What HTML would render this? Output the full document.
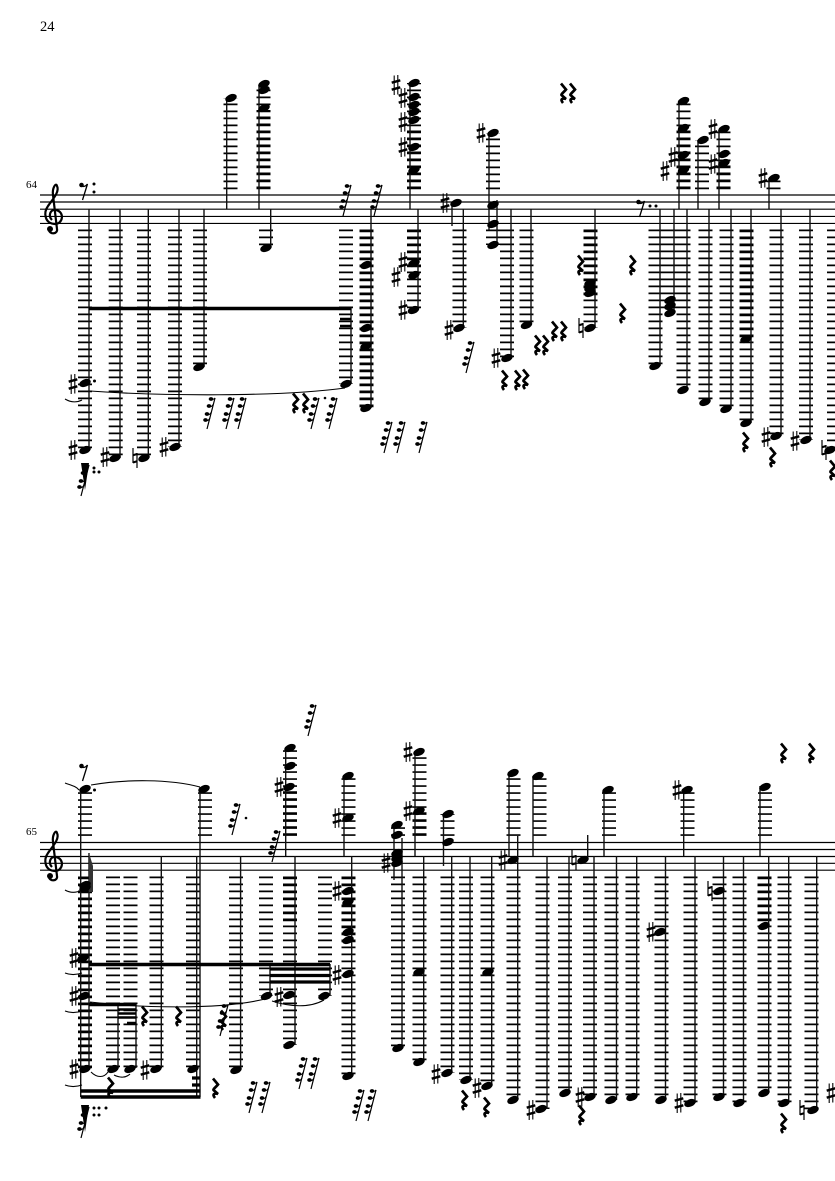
<!DOCTYPE html>
<html><head><meta charset="utf-8"><style>
html,body{margin:0;padding:0;background:#fff}
svg{display:block}
text{font-family:"Liberation Serif",serif;fill:#000}
.st{stroke:#000;stroke-width:1.15;fill:none}
.s{stroke:#111;stroke-width:1.4;fill:none}
.l{stroke:#000;stroke-width:14;stroke-dasharray:1.7 5.3;fill:none}
.b{stroke:#000;stroke-width:3.4;fill:none}
.t{stroke:#000;stroke-width:1.1;fill:none}
</style></head><body>
<svg width="835" height="1181" viewBox="0 0 835 1181" xmlns="http://www.w3.org/2000/svg">
<defs>
<g id="n"><ellipse rx="6" ry="3.7" transform="rotate(-22)"/></g>
<g id="h"><path d="M-1.8 -9.500V10M1.800 -10V9.500" stroke="#000" stroke-width="1.1" fill="none"/><path d="M-4.300 -2.300L4.300 -4.700M-4.300 4.700L4.300 2.300" stroke="#000" stroke-width="2.500" fill="none"/></g>
<g id="a"><path d="M-2 -10V5M2 -5V10" stroke="#000" stroke-width="1.200" fill="none"/><path d="M-2 -2.800L2 -4M-2 4.500L2 3.300" stroke="#000" stroke-width="2.100" fill="none"/></g>
<g id="r"><path d="M-2 -9.500L3 -3.500C1 -1 -2 1 -1.500 2L3 6C0 5 -3.500 6 0 10" stroke="#000" stroke-width="2.700" fill="none"/></g>
<g id="g"><path d="M-4 16L4 -15" stroke="#000" stroke-width="1.200" fill="none"/><ellipse cx="-5.500" cy="7" rx="2.300" ry="1.900"/><ellipse cx="-4" cy="1" rx="2.300" ry="1.900"/><ellipse cx="-2" cy="-7" rx="2.300" ry="1.900"/><ellipse cx="0" cy="-14" rx="2.300" ry="1.900"/><path d="M-4.500 7.500C-3 8 -2.500 7 -1 5M-3 1.500C-1.500 2 -1 1 .5 -1M-1 -6.500C.5 -6 1 -7 2.500 -9M1 -13.500C2 -13 3 -14 4.200 -15" stroke="#000" stroke-width="1" fill="none"/></g>
<g id="e"><circle cx="-2.500" cy="-7" r="2.300"/><path d="M-2.500 -6C0 -5 2 -6 3.500 -8L-1.500 8" stroke="#000" stroke-width="1.300" fill="none"/></g>
<path id="c" d="M57 229C58 234 50 235 49 230M57 229L53 195C52 188 56 182 57 186C60 192 52 200 48 206C43 213 45 224 55 224C63 224 65 212 56 210C50 209 48 216 52 220" stroke="#000" stroke-width="2.200" fill="none"/>
</defs>

<text x="40" y="31" font-size="14.5">24</text>
<text x="26" y="188" font-size="11">64</text>
<text x="26" y="835" font-size="11">65</text>

<!-- SYSTEM 1 -->
<path class="st" d="M40 195H835M40 202H835M40 209.200H835M40 216.400H835M40 223.400H835"/>
<use href="#c"/>
<circle cx="50" cy="229" r="3"/>
<path class="l" d="M85 229.500V450M115.700 229.500V458M144 229.500V458M175 229.500V447M200 229.500V367M266 229.500V248M346 229.500V384M366.500 229.500V408M414 229.500V310M459.500 229.500V328M493 229.500V245M507 229.500V358M526.500 229.500V325M590.500 229.500V328M655.500 229.500V366M669.500 229.500V313M683.500 229.500V390M705.500 229.500V402M726.500 229.500V409M746.500 229.500V423M776.500 229.500V436M806 229.500V440M834 229.500V450"/>
<path class="l" d="M366.500 230.500V408M414 230.500V270M590.500 230.500V300M746.500 230.500V340"/>
<path class="l" d="M230.500 189.200V98M263.500 189.200V85M414 189.200V83M493 189.200V133M683.500 189.200V102M702 189.200V140M723.500 189.200V130M773.500 189.200V178"/>
<path class="l" d="M263.500 188.200V110M414 188.200V125M723.500 188.200V160M683.500 188.200V125"/>
<path class="s" d="M89 209V450M120 209V458M148.300 209V458M179 209V447M204 209V367M226.700 209V98M259 209V85M270.700 209V248M351 308V384M371 209V408M410 209V83M418 209V310M452 203V226M463.300 209V328M489 132V230M497 200V245M511 209V358M531 209V325M595 209V328M660 209V366M674 209V313M679 209V102M687 209V390M698 209V140M709 209V402M719 209V130M731 209V409M751 209V423M769 209V178M781 209V436M810 209V440"/>
<path class="b" d="M89 308.500H351"/>
<path d="M340 319H351M340 326H351" stroke="#000" stroke-width="2.600"/>
<path class="t" d="M90 391C160 396 280 397 345 388"/>
<path class="t" d="M65 399C70 402 76 403 82 400"/>
<g>
<use href="#n" x="85" y="450"/><use href="#n" x="85" y="383"/><circle cx="94.500" cy="381" r="1.500"/>
<use href="#n" x="115" y="458"/><use href="#n" x="144" y="458"/><use href="#n" x="175" y="447"/><use href="#n" x="199" y="367"/>
<use href="#n" x="231" y="98"/><use href="#n" x="264" y="84"/><use href="#n" x="264" y="90"/><use href="#n" x="264" y="108"/>
<use href="#n" x="266" y="248"/><use href="#n" x="346" y="384"/>
<use href="#n" x="366" y="265"/><use href="#n" x="366" y="328"/><use href="#n" x="366" y="346"/><use href="#n" x="366" y="408"/>
<use href="#n" x="414" y="83"/><use href="#n" x="414" y="97"/><use href="#n" x="414" y="105"/><use href="#n" x="414" y="112"/><use href="#n" x="414" y="120"/><use href="#n" x="414" y="147"/><use href="#n" x="414" y="170"/>
<use href="#n" x="414" y="263"/><use href="#n" x="414" y="275"/><use href="#n" x="413.500" y="310"/>
<use href="#n" x="456" y="203"/><use href="#n" x="459" y="328"/>
<use href="#n" x="493" y="133"/><use href="#n" x="493" y="205"/><use href="#n" x="493" y="224"/><use href="#n" x="493" y="245"/>
<use href="#n" x="507" y="358"/><use href="#n" x="526.500" y="325"/>
<use href="#n" x="590" y="328"/><use href="#n" x="590" y="283"/><use href="#n" x="590" y="288"/><use href="#n" x="590" y="293"/>
<use href="#n" x="655" y="366"/><use href="#n" x="670" y="300"/><use href="#n" x="670" y="306"/><use href="#n" x="670" y="313"/>
<use href="#n" x="683.500" y="101"/><use href="#n" x="683.500" y="128"/><use href="#n" x="683.500" y="155"/><use href="#n" x="683.500" y="170"/><use href="#n" x="683" y="390"/>
<use href="#n" x="703" y="140"/><use href="#n" x="724" y="129"/><use href="#n" x="724" y="154"/><use href="#n" x="724" y="163"/>
<use href="#n" x="705" y="402"/><use href="#n" x="726" y="409"/><use href="#n" x="746" y="423"/><use href="#n" x="746" y="339"/>
<use href="#n" x="774" y="178"/><use href="#n" x="776" y="436"/><use href="#n" x="806" y="440"/><use href="#n" x="830" y="450"/>
</g>
<g>
<use href="#h" x="73" y="384"/><use href="#h" x="73" y="450"/><use href="#h" x="105" y="457"/><use href="#a" x="135" y="458"/><use href="#h" x="164" y="447"/>
<use href="#h" x="396" y="85"/><use href="#h" x="403" y="98"/><use href="#h" x="403" y="122"/><use href="#h" x="403" y="147"/>
<use href="#h" x="403" y="262"/><use href="#h" x="396" y="277"/><use href="#h" x="403" y="310"/>
<use href="#h" x="445" y="203"/><use href="#h" x="449" y="330"/><use href="#h" x="481" y="133"/><use href="#h" x="496" y="358"/>
<use href="#a" x="581" y="328"/><use href="#h" x="665" y="171"/><use href="#h" x="673" y="157"/><use href="#h" x="713" y="129"/><use href="#h" x="713" y="164"/>
<use href="#h" x="763" y="178"/><use href="#h" x="766" y="437"/><use href="#h" x="795" y="441"/><use href="#a" x="824" y="450"/>
</g>
<g>
<use href="#e" x="84" y="192"/><circle cx="94" cy="184" r="1.500"/><circle cx="94" cy="192" r="1.500"/>
<use href="#e" x="641" y="209"/><circle cx="650" cy="206" r="1.500"/><circle cx="656" cy="206" r="1.500"/>
<use href="#r" x="563" y="93"/><use href="#r" x="572" y="93"/>
<use href="#r" x="504" y="380"/><use href="#r" x="517" y="380"/><use href="#r" x="525" y="379"/>
<use href="#r" x="537" y="345"/><use href="#r" x="545" y="345"/><use href="#r" x="554" y="331"/><use href="#r" x="563" y="331"/>
<use href="#r" x="580" y="265"/><use href="#r" x="632" y="265"/><use href="#r" x="622" y="313"/>
<use href="#r" x="745" y="442"/><use href="#r" x="772" y="457"/><use href="#r" x="832" y="470"/>
<use href="#r" x="295" y="403"/><use href="#r" x="305" y="403"/>
<use href="#g" x="211" y="413"/><use href="#g" x="230" y="413"/><use href="#g" x="242" y="413"/><use href="#g" x="315" y="413"/><circle cx="325" cy="398" r="1.300"/><use href="#g" x="333" y="413"/>
<use href="#g" x="388" y="437"/><use href="#g" x="401" y="437"/><use href="#g" x="423" y="437"/><use href="#g" x="470" y="357"/>
<use href="#g" x="347" y="200"/><use href="#g" x="378" y="200"/>
<use href="#g" x="85" y="480"/><path d="M81 463H89L85 490Z" fill="#000"/>
<circle cx="94" cy="468" r="1.500"/><circle cx="94" cy="472" r="1.500"/><circle cx="99" cy="472" r="1.500"/>
</g>

<!-- SYSTEM 2 -->
<path class="st" d="M40 842.500H835M40 849.500H835M40 856.500H835M40 863.300H835M40 870.200H835"/>
<use href="#c" y="647"/>
<circle cx="50" cy="876" r="3"/>
<path class="l" d="M85 876.500V1069M113 876.500V1069M130.500 876.500V1069M156.500 876.500V1069M193 876.500V1069M236 876.500V1070M266 876.500V996M290 876.500V1045M325 876.500V996M348.500 876.500V1076M398 876.500V1048M419.500 876.500V1062M447.500 876.500V1073M466 876.500V1080M487.500 876.500V1086M513.500 876.500V1100M542.500 876.500V1109M565 876.500V1093M590 876.500V1097M611.500 876.500V1100M632.500 876.500V1097M661.500 876.500V1100M690.500 876.500V1103M719.500 876.500V1097M739.500 876.500V1103M764.500 876.500V1093M784.500 876.500V1103M811.500 876.500V1110"/>
<path class="l" d="M85 877.500V1069M348.500 877.500V945M764.500 877.500V926M290 877.500V925"/>
<path class="l" d="M85 835.900V790M205 835.900V790M290 835.900V748M348.500 835.900V776M398 835.900V826M419.500 835.900V752M447.500 835.900V814M513.500 835.900V773M539.500 835.900V776M609 835.900V790M687.500 835.900V790M765 835.900V787"/>
<path class="l" d="M290 834.900V790M419.500 834.900V811"/>
<path class="s" d="M80.700 790V1097M89 853V1068M118 1004V1068M136 1004V1068M161.300 856V1068M196.700 856V1097M200 787V1097M240.600 856V1068M270 964V994M295 856V1045M285.700 856V748M330 964V996M351.700 856V1075M344 856V776M394 825V880M402 838V1048M415 856V752M423.700 856V1062M443.500 814V866M451.700 856V1073M470 856V1080M491.700 856V1086M509 856V773M517.700 836V1100M533 856V776M547 856V1109M569 856V1093M587.700 860V835M594 856V1097M604 856V790M616.500 856V1100M636.700 856V1097M665.500 856V1100M683.700 856V790M695 856V1103M723.500 856V1097M743.500 856V1103M760 856V786M768.700 856V1093M788.700 856V1103M816.700 856V1110"/>
<path class="b" d="M89 964.500H330M89 1004.500H136"/>
<path d="M270 969H330M270 975.500H330M270 982H330" stroke="#000" stroke-width="3.200"/>
<path d="M118 1009.500H136M118 1013.500H136M118 1017.500H136M127 1023H136" stroke="#000" stroke-width="2.400"/>
<path class="b" d="M80.700 1091H200.500M80.700 1097H200.500"/>
<path d="M192 1078H200M192 1085H200" stroke="#000" stroke-width="3.200"/>
<path d="M89 853L93 866V892H89Z" fill="#333"/>
<path class="t" d="M91 785C125 779 170 779 200 787"/>
<path class="t" d="M90 1002C140 1008 220 1010 265 999"/>
<path class="t" d="M272 1001C290 1007 310 1008 324 1000"/>
<path class="t" d="M91 1072C97 1078 104 1078 108 1072M114 1075C120 1078 126 1078 130 1074"/>
<path class="t" d="M65 783C70 785 76 786 79 790M65 890C70 893 76 893 82 890M65 973C70 975 76 975 82 973M65 1011C70 1013 76 1013 82 1011M65 1085C70 1087 76 1087 82 1085"/>
<g>
<use href="#n" x="85" y="789"/><circle cx="94.500" cy="790" r="1.500"/><use href="#n" x="85" y="885"/><use href="#n" x="85" y="888"/><use href="#n" x="83" y="958"/><use href="#n" x="84" y="996"/><use href="#n" x="85" y="1069"/>
<use href="#n" x="204" y="789"/><use href="#n" x="113" y="1069"/><use href="#n" x="130" y="1069"/><use href="#n" x="156" y="1069"/><use href="#n" x="193" y="1069"/><use href="#n" x="236" y="1070"/>
<use href="#n" x="266.500" y="996"/><use href="#n" x="289" y="995"/><use href="#n" x="289" y="1045"/><use href="#n" x="324" y="996"/>
<use href="#n" x="290" y="748"/><use href="#n" x="290" y="766"/><use href="#n" x="289" y="787"/>
<use href="#n" x="348" y="776"/><use href="#n" x="348" y="818"/><use href="#n" x="348" y="891"/><use href="#n" x="348" y="902"/><use href="#n" x="348" y="932"/><use href="#n" x="348" y="940"/><use href="#n" x="348" y="974"/><use href="#n" x="348" y="1076"/>
<use href="#n" x="397" y="825"/><use href="#n" x="397" y="835"/><use href="#n" x="397" y="853"/><use href="#n" x="397" y="858"/><use href="#n" x="397" y="863"/><use href="#n" x="398" y="1048"/>
<use href="#n" x="419" y="752"/><use href="#n" x="419" y="811"/><use href="#n" x="419" y="972"/><use href="#n" x="419" y="1062"/>
<use href="#n" x="448" y="814"/><use href="#n" x="448" y="842"/><use href="#n" x="447" y="1073"/><use href="#n" x="466" y="1080"/>
<use href="#n" x="488" y="972"/><use href="#n" x="487" y="1086"/><use href="#n" x="513" y="773"/><use href="#n" x="513" y="860"/><use href="#n" x="513" y="1100"/>
<use href="#n" x="538" y="776"/><use href="#n" x="541" y="1109"/><use href="#n" x="565" y="1093"/><use href="#n" x="583" y="860"/><use href="#n" x="590" y="1097"/>
<use href="#n" x="608" y="790"/><use href="#n" x="611" y="1100"/><use href="#n" x="632" y="1097"/><use href="#n" x="660" y="932"/><use href="#n" x="661" y="1100"/>
<use href="#n" x="687" y="790"/><use href="#n" x="690" y="1103"/><use href="#n" x="719" y="891"/><use href="#n" x="719" y="1097"/><use href="#n" x="739" y="1103"/>
<use href="#n" x="765" y="787"/><use href="#n" x="764" y="926"/><use href="#n" x="764" y="1093"/><use href="#n" x="784" y="1103"/><use href="#n" x="813" y="1110"/>
</g>
<g>
<use href="#h" x="74" y="958"/><use href="#h" x="74" y="996"/><use href="#h" x="74" y="1069"/><use href="#h" x="145" y="1070"/><use href="#h" x="279" y="997"/>
<use href="#h" x="279" y="787"/><use href="#h" x="337" y="818"/><use href="#h" x="337" y="891"/><use href="#h" x="337" y="975"/><use href="#h" x="386" y="863"/>
<use href="#h" x="408" y="752"/><use href="#h" x="408" y="811"/><use href="#h" x="436" y="1074"/><use href="#h" x="477" y="1088"/><use href="#h" x="503" y="860"/>
<use href="#h" x="531" y="1110"/><use href="#a" x="574" y="860"/><use href="#h" x="580" y="1097"/><use href="#h" x="651" y="932"/><use href="#h" x="677" y="790"/>
<use href="#h" x="679" y="1103"/><use href="#a" x="710" y="891"/><use href="#a" x="802" y="1110"/><use href="#h" x="831" y="1093"/>
</g>
<g>
<use href="#e" x="84" y="773"/>
<use href="#r" x="144" y="1016"/><use href="#r" x="178" y="1016"/><use href="#r" x="110" y="1087"/><use href="#r" x="215" y="1088"/>
<use href="#r" x="464" y="1100"/><use href="#r" x="486" y="1107"/><use href="#r" x="581" y="1115"/><use href="#r" x="783" y="1123"/><use href="#r" x="783" y="753"/><use href="#r" x="811" y="753"/>
<use href="#r" x="223" y="1020"/><use href="#g" x="224" y="1020"/>
<use href="#g" x="276" y="846"/><use href="#g" x="236" y="819"/><circle cx="246" cy="818" r="1.300"/><use href="#g" x="312" y="720"/>
<use href="#g" x="253" y="1097"/><use href="#g" x="266" y="1097"/><use href="#g" x="303" y="1073"/><use href="#g" x="315" y="1073"/><use href="#g" x="360" y="1105"/><use href="#g" x="372" y="1105"/>
<use href="#g" x="85" y="1122"/><path d="M81 1105H89L85 1132Z" fill="#000"/>
<circle cx="94" cy="1108" r="1.500"/><circle cx="99" cy="1108" r="1.500"/><circle cx="106" cy="1108" r="1.500"/><circle cx="94" cy="1115" r="1.500"/><circle cx="99" cy="1115" r="1.500"/>
</g>
</svg>
</body></html>
